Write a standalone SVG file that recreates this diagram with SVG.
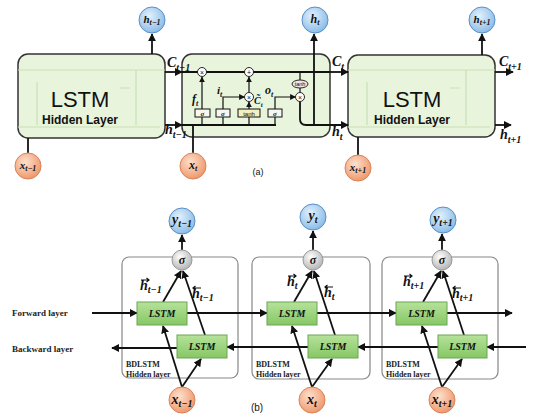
<svg xmlns="http://www.w3.org/2000/svg" width="544" height="417" viewBox="0 0 544 417">
<defs>
<radialGradient id="gBlue" cx="40%" cy="35%" r="70%"><stop offset="0" stop-color="#e2f1fd"/><stop offset="1" stop-color="#86b9e6"/></radialGradient>
<radialGradient id="gOrange" cx="40%" cy="35%" r="70%"><stop offset="0" stop-color="#fde0cd"/><stop offset="1" stop-color="#ee9466"/></radialGradient>
<radialGradient id="gGray" cx="40%" cy="35%" r="70%"><stop offset="0" stop-color="#ffffff"/><stop offset="1" stop-color="#b0b0b0"/></radialGradient>
<linearGradient id="gGreen" x1="0" y1="0" x2="0" y2="1"><stop offset="0" stop-color="#b6e29a"/><stop offset="1" stop-color="#86c765"/></linearGradient>
<marker id="ah" viewBox="0 0 10 10" refX="9" refY="5" markerWidth="8" markerHeight="8" markerUnits="userSpaceOnUse" orient="auto"><path d="M0,0 L10,5 L0,10 Z" fill="#111"/></marker>
<marker id="ahs" viewBox="0 0 10 10" refX="9" refY="5" markerWidth="6" markerHeight="6" markerUnits="userSpaceOnUse" orient="auto"><path d="M0,0 L10,5 L0,10 Z" fill="#111"/></marker>
</defs>
<style>
.big{fill:#e8f4dc;stroke:#333;stroke-width:1.5}
.faint{fill:none;stroke:#c9dfb6;stroke-width:1.2}
.ln{fill:none;stroke:#111;stroke-width:1.8}
.lt{fill:none;stroke:#111;stroke-width:1.2}
.cb{fill:url(#gBlue);stroke:#5a8fc4;stroke-width:1}
.co{fill:url(#gOrange);stroke:#d9835a;stroke-width:1}
.cg{fill:url(#gGray);stroke:#999;stroke-width:1}
.gate{fill:#f7f7f0;stroke:#111;stroke-width:1}
.op{fill:#fff;stroke:#111;stroke-width:0.9}
.hbox{fill:none;stroke:#888;stroke-width:1.2}
.lstm{fill:url(#gGreen);stroke:#6aa653;stroke-width:1}
.m{font-family:"Liberation Serif",serif;font-style:italic;font-weight:bold;fill:#111}
.sans{font-family:"Liberation Sans",Arial,sans-serif;fill:#111}
.ser{font-family:"Liberation Serif",serif;font-weight:bold;fill:#222}
</style>

<!-- Part (a) -->
<g id="a-box1">
<rect class="big" x="18" y="54" width="147" height="84" rx="10"/>
<path class="faint" d="M18,70 H165 M37,82 V125 M136,70 V125 M18,127 H160 M120,88 h10"/>
<text class="sans" x="80" y="107" font-size="22" text-anchor="middle">LSTM</text>
<text class="sans" x="80" y="124" font-size="12" font-weight="bold" text-anchor="middle">Hidden Layer</text>
</g>
<g id="a-box2">
<rect class="big" x="182" y="54" width="148" height="83" rx="10"/>
</g>
<g id="a-box3">
<rect class="big" x="348" y="55" width="147" height="82" rx="10"/>
<path class="faint" d="M348,70 H495 M367,82 V125 M466,70 V125 M348,127 H490 M450,88 h10"/>
<text class="sans" x="412" y="107" font-size="22" text-anchor="middle">LSTM</text>
<text class="sans" x="412" y="124" font-size="12" font-weight="bold" text-anchor="middle">Hidden Layer</text>
</g>

<g id="connectors-a">
<line class="ln" x1="152" y1="54" x2="152" y2="34" marker-end="url(#ah)"/>
<line class="ln" x1="314" y1="125" x2="314" y2="34" marker-end="url(#ah)"/>
<line class="ln" x1="482" y1="55" x2="482" y2="34" marker-end="url(#ah)"/>
<line class="ln" x1="165" y1="72" x2="182" y2="72" marker-end="url(#ah)"/>
<line class="ln" x1="182" y1="72" x2="330" y2="72"/>
<line class="ln" x1="330" y1="72" x2="348" y2="72" marker-end="url(#ah)"/>
<line class="ln" x1="495" y1="72" x2="513" y2="72" marker-end="url(#ah)"/>
<line class="ln" x1="165" y1="125" x2="182" y2="125" marker-end="url(#ah)"/>
<line class="ln" x1="182" y1="125" x2="276" y2="125"/>
<path class="ln" d="M300,101.5 V119 Q300,125 306,125 H348" marker-end="url(#ah)"/>
<line class="ln" x1="495" y1="125" x2="511" y2="125" marker-end="url(#ah)"/>
<line class="ln" x1="28" y1="153" x2="28" y2="138"/>
<line class="ln" x1="193" y1="153" x2="193" y2="125"/>
<line class="ln" x1="358" y1="155" x2="358" y2="137"/>
<path class="lt" d="M202,125 V117 M223,125 V117 M249,125 V117 M275,125 V117"/>
<line class="lt" x1="202" y1="109" x2="202" y2="77" marker-end="url(#ahs)"/>
<path class="lt" d="M223,109 V97 H244.5" marker-end="url(#ahs)"/>
<line class="lt" x1="249" y1="109" x2="249" y2="102" marker-end="url(#ahs)"/>
<line class="lt" x1="249" y1="92.5" x2="249" y2="77" marker-end="url(#ahs)"/>
<path class="lt" d="M275,109 V97 H295.5" marker-end="url(#ahs)"/>
<path class="lt" d="M300,72 V80 M300,88 V92.5"/>
</g>

<g id="a-gates">
<rect class="gate" x="195" y="109" width="15" height="8"/>
<text class="m" x="202.5" y="115.5" font-size="7" text-anchor="middle">σ</text>
<rect class="gate" x="216" y="109" width="14" height="8"/>
<text class="m" x="223" y="115.5" font-size="7" text-anchor="middle">σ</text>
<rect class="gate" x="238" y="109" width="22" height="8" style="fill:#f3efbf"/>
<text class="sans" x="249" y="115.5" font-size="6" text-anchor="middle">tanh</text>
<rect class="gate" x="268" y="109" width="14" height="8"/>
<text class="m" x="275" y="115.5" font-size="7" text-anchor="middle">σ</text>
<circle class="op" cx="202" cy="72" r="4.5"/><text class="sans" x="202" y="74.5" font-size="7" text-anchor="middle">×</text>
<circle class="op" cx="249" cy="72" r="4.5"/><text class="sans" x="249" y="74.5" font-size="7" text-anchor="middle">+</text>
<circle class="op" cx="249" cy="97" r="4.5"/><text class="sans" x="249" y="99.5" font-size="7" text-anchor="middle">×</text>
<circle class="op" cx="300" cy="97" r="4.5"/><text class="sans" x="300" y="99.5" font-size="7" text-anchor="middle">×</text>
<ellipse class="op" cx="300" cy="84" rx="8" ry="4" style="fill:#f1e4e4"/>
<text class="sans" x="300" y="86" font-size="5.5" text-anchor="middle">tanh</text>
<text class="m" x="192" y="103" font-size="12">f<tspan font-size="8" dy="3">t</tspan></text>
<text class="m" x="217" y="94" font-size="11">i<tspan font-size="8" dy="3">t</tspan></text>
<text class="m" x="254" y="104" font-size="10">C̃<tspan font-size="7" dy="3">t</tspan></text>
<text class="m" x="265" y="94" font-size="12">o<tspan font-size="8" dy="3">t</tspan></text>
</g>

<g id="a-labels">
<text class="m" x="167" y="67" font-size="14">C<tspan font-size="10" dy="4">t−1</tspan></text>
<text class="m" x="165" y="134" font-size="14">h<tspan font-size="10" dy="4">t−1</tspan></text>
<text class="m" x="332" y="66" font-size="14">C<tspan font-size="10" dy="4">t</tspan></text>
<text class="m" x="332" y="136" font-size="14">h<tspan font-size="10" dy="4">t</tspan></text>
<text class="m" x="499" y="66" font-size="14">C<tspan font-size="10" dy="4">t+1</tspan></text>
<text class="m" x="500" y="139" font-size="14">h<tspan font-size="10" dy="4">t+1</tspan></text>
<text class="sans" x="258" y="175" font-size="9" text-anchor="middle">(a)</text>
</g>

<g id="a-h-prev"><circle class="cb" cx="152" cy="20" r="13"/><text class="m" x="152" y="23" font-size="11" text-anchor="middle">h<tspan font-size="8" dy="2">t−1</tspan></text></g>
<g id="a-h-cur"><circle class="cb" cx="315" cy="20" r="13"/><text class="m" x="315" y="23" font-size="12" text-anchor="middle">h<tspan font-size="8" dy="2">t</tspan></text></g>
<g id="a-h-next"><circle class="cb" cx="482" cy="20" r="13"/><text class="m" x="482" y="23" font-size="11" text-anchor="middle">h<tspan font-size="8" dy="2">t+1</tspan></text></g>
<g id="a-x-prev"><circle class="co" cx="28" cy="166" r="13"/><text class="m" x="28" y="169" font-size="11" text-anchor="middle">x<tspan font-size="8" dy="2">t−1</tspan></text></g>
<g id="a-x-cur"><circle class="co" cx="193" cy="166" r="13"/><text class="m" x="193" y="169" font-size="12" text-anchor="middle">x<tspan font-size="8" dy="2">t</tspan></text></g>
<g id="a-x-next"><circle class="co" cx="358" cy="168" r="13"/><text class="m" x="358" y="171" font-size="11" text-anchor="middle">x<tspan font-size="8" dy="2">t+1</tspan></text></g>

<!-- Part (b) -->
<g id="b-hidden1"><rect class="hbox" x="122" y="257" width="116" height="121" rx="7"/>
<text class="ser" x="126" y="367" font-size="8">BDLSTM</text><text class="ser" x="126" y="377" font-size="8">Hidden layer</text></g>
<g id="b-hidden2"><rect class="hbox" x="252" y="257" width="118" height="122" rx="7"/>
<text class="ser" x="256" y="367" font-size="8">BDLSTM</text><text class="ser" x="256" y="377" font-size="8">Hidden layer</text></g>
<g id="b-hidden3"><rect class="hbox" x="382" y="257" width="116" height="122" rx="7"/>
<text class="ser" x="386" y="367" font-size="8">BDLSTM</text><text class="ser" x="386" y="377" font-size="8">Hidden layer</text></g>

<g id="connectors-b">
<line class="ln" x1="92" y1="313" x2="137" y2="313" marker-end="url(#ah)"/>
<line class="ln" x1="177" y1="348" x2="112" y2="348" marker-end="url(#ah)"/>
<line class="ln" x1="187" y1="313" x2="267" y2="313" marker-end="url(#ah)"/>
<line class="ln" x1="317" y1="313" x2="396" y2="313" marker-end="url(#ah)"/>
<line class="ln" x1="447" y1="313" x2="512" y2="313" marker-end="url(#ah)"/>
<line class="ln" x1="526" y1="347" x2="487" y2="347" marker-end="url(#ah)"/>
<line class="ln" x1="438" y1="347" x2="358" y2="347" marker-end="url(#ah)"/>
<line class="ln" x1="308" y1="347" x2="227" y2="347" marker-end="url(#ah)"/>
<line class="ln" x1="182" y1="250" x2="182" y2="235" marker-end="url(#ah)"/>
<line class="ln" x1="163" y1="302" x2="181" y2="271" marker-end="url(#ah)"/>
<line class="ln" x1="205" y1="335" x2="183" y2="271" marker-end="url(#ah)"/>
<line class="ln" x1="182" y1="387" x2="163" y2="326" marker-end="url(#ah)"/>
<line class="ln" x1="182" y1="387" x2="201" y2="359" marker-end="url(#ah)"/>
<line class="ln" x1="313" y1="250" x2="313" y2="231" marker-end="url(#ah)"/>
<line class="ln" x1="294" y1="302" x2="312" y2="271" marker-end="url(#ah)"/>
<line class="ln" x1="335" y1="335" x2="314" y2="271" marker-end="url(#ah)"/>
<line class="ln" x1="312" y1="387" x2="292" y2="326" marker-end="url(#ah)"/>
<line class="ln" x1="312" y1="387" x2="332" y2="359" marker-end="url(#ah)"/>
<line class="ln" x1="442" y1="250" x2="442" y2="234" marker-end="url(#ah)"/>
<line class="ln" x1="423" y1="302" x2="441" y2="271" marker-end="url(#ah)"/>
<line class="ln" x1="464" y1="335" x2="443" y2="271" marker-end="url(#ah)"/>
<line class="ln" x1="442" y1="387" x2="422" y2="326" marker-end="url(#ah)"/>
<line class="ln" x1="442" y1="387" x2="462" y2="359" marker-end="url(#ah)"/>
</g>

<g id="b-labels">
<text class="ser" x="12" y="316" font-size="9">Forward layer</text>
<text class="ser" x="12" y="352" font-size="9">Backward layer</text>
<text class="m" x="140" y="290" font-size="14">h<tspan font-size="10" dy="3">t−1</tspan></text>
<path class="lt" d="M141,280 h8 m-2.5,-2 l2.5,2 l-2.5,2"/>
<text class="m" x="192" y="298" font-size="14">h<tspan font-size="10" dy="3">t−1</tspan></text>
<path class="lt" d="M193,288 h8 m-5.5,-2 l-2.5,2 l2.5,2"/>
<text class="m" x="287" y="286" font-size="14">h<tspan font-size="10" dy="3">t</tspan></text>
<path class="lt" d="M288,276 h8 m-2.5,-2 l2.5,2 l-2.5,2"/>
<text class="m" x="324" y="297" font-size="14">h<tspan font-size="10" dy="3">t</tspan></text>
<path class="lt" d="M325,287 h8 m-5.5,-2 l-2.5,2 l2.5,2"/>
<text class="m" x="403" y="286" font-size="14">h<tspan font-size="10" dy="3">t+1</tspan></text>
<path class="lt" d="M404,276 h8 m-2.5,-2 l2.5,2 l-2.5,2"/>
<text class="m" x="452" y="298" font-size="14">h<tspan font-size="10" dy="3">t+1</tspan></text>
<path class="lt" d="M453,288 h8 m-5.5,-2 l-2.5,2 l2.5,2"/>
<text class="sans" x="257" y="411" font-size="10" text-anchor="middle">(b)</text>
</g>

<g id="b-lstm-f1"><rect class="lstm" x="137" y="302" width="50" height="23"/><text class="m" x="162" y="317" font-size="10" text-anchor="middle">LSTM</text></g>
<g id="b-lstm-b1"><rect class="lstm" x="177" y="335" width="50" height="23"/><text class="m" x="202" y="350" font-size="10" text-anchor="middle">LSTM</text></g>
<g id="b-lstm-f2"><rect class="lstm" x="267" y="302" width="50" height="23"/><text class="m" x="292" y="317" font-size="10" text-anchor="middle">LSTM</text></g>
<g id="b-lstm-b2"><rect class="lstm" x="308" y="335" width="50" height="23"/><text class="m" x="333" y="350" font-size="10" text-anchor="middle">LSTM</text></g>
<g id="b-lstm-f3"><rect class="lstm" x="396" y="302" width="51" height="23"/><text class="m" x="421.5" y="317" font-size="10" text-anchor="middle">LSTM</text></g>
<g id="b-lstm-b3"><rect class="lstm" x="438" y="335" width="49" height="23"/><text class="m" x="462.5" y="350" font-size="10" text-anchor="middle">LSTM</text></g>

<g id="b-sigma1"><circle class="cg" cx="182" cy="260" r="10"/><text class="m" x="182" y="264" font-size="12" text-anchor="middle">σ</text></g>
<g id="b-sigma2"><circle class="cg" cx="313" cy="260" r="10"/><text class="m" x="313" y="264" font-size="12" text-anchor="middle">σ</text></g>
<g id="b-sigma3"><circle class="cg" cx="442" cy="260" r="10"/><text class="m" x="442" y="264" font-size="12" text-anchor="middle">σ</text></g>

<g id="b-y1"><circle class="cb" cx="182" cy="221" r="13"/><text class="m" x="182" y="224" font-size="14" text-anchor="middle">y<tspan font-size="10" dy="3">t−1</tspan></text></g>
<g id="b-y2"><circle class="cb" cx="313" cy="217" r="13"/><text class="m" x="313" y="220" font-size="14" text-anchor="middle">y<tspan font-size="10" dy="3">t</tspan></text></g>
<g id="b-y3"><circle class="cb" cx="443" cy="220" r="13"/><text class="m" x="443" y="223" font-size="14" text-anchor="middle">y<tspan font-size="10" dy="3">t+1</tspan></text></g>

<g id="b-x1"><circle class="co" cx="182" cy="400" r="13"/><text class="m" x="182" y="404" font-size="14" text-anchor="middle">x<tspan font-size="10" dy="3">t−1</tspan></text></g>
<g id="b-x2"><circle class="co" cx="312" cy="400" r="13"/><text class="m" x="312" y="404" font-size="14" text-anchor="middle">x<tspan font-size="10" dy="3">t</tspan></text></g>
<g id="b-x3"><circle class="co" cx="442" cy="400" r="13"/><text class="m" x="442" y="404" font-size="14" text-anchor="middle">x<tspan font-size="10" dy="3">t+1</tspan></text></g>
</svg>
